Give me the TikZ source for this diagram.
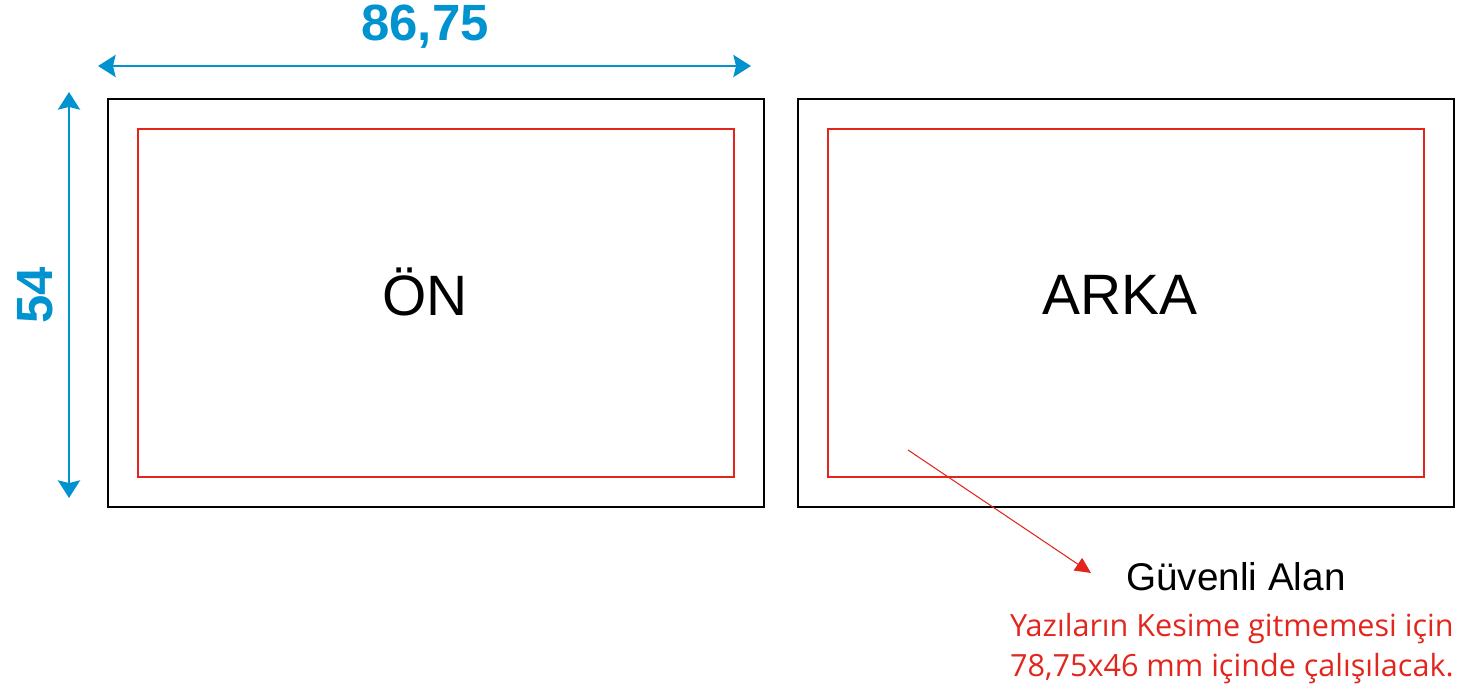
\documentclass[tikz,border=0pt]{standalone}
\usepackage{fontspec}
\setmainfont{Liberation Sans}
\newfontfamily\notefont{Open Sans}
\usetikzlibrary{arrows.meta}
\definecolor{olcu}{RGB}{0,147,208}
\definecolor{guvenli}{RGB}{226,38,30}

\begin{document}
\begin{tikzpicture}[x=0.02cm,y=-0.02cm]
				\tikzstyle{kesim}=[draw=black,line width=0.8pt,minimum width=13.12cm,minimum height=8.16cm,inner sep=0pt]
				\tikzstyle{alan}=[draw=guvenli,line width=0.7pt,minimum width=11.92cm,minimum height=6.96cm,inner sep=0pt]
				\tikzstyle{olculine}=[olcu,line width=1.7pt,{Stealth[length=10pt,width=12.5pt,inset=1.5pt]}-{Stealth[length=10pt,width=12.5pt,inset=1.5pt]}]
				\tikzstyle{olcutext}=[text=olcu,font=\fontsize{29}{32}\selectfont\bfseries,anchor=base,inner sep=0pt]
				\tikzstyle{yuz}=[font=\fontsize{32.4}{36}\selectfont,anchor=base,inner sep=0pt]
				\tikzstyle{nottext}=[text=guvenli,font=\notefont\fontsize{17.4}{20}\selectfont,anchor=base east,inner sep=0pt]
				\useasboundingbox (0,0) rectangle (1474,693);
				% kartlar
				\node[kesim](on) at (436,303) {};
				\node[alan](onalan) at (436,303) {};
				\node[kesim](arka) at (1126,303) {};
				\node[alan](arkaalan) at (1126,303) {};
				\node[yuz](ontext) at (425,315) {ÖN};
				\node[yuz](arkatext) at (1120,314) {ARKA};
				% olculer
				\coordinate(e1) at (98,66);
				\coordinate(e2) at (751,66);
				\coordinate(b1) at (69,92);
				\coordinate(b2) at (69,498);
				\draw[olculine] (e1) -- (e2);
				\draw[olculine] (b1) -- (b2);
				\node[olcutext](en) at (425,40) {86,75};
				\node[olcutext,rotate=90](boy) at (52,295) {54};
				% guvenli alan
				\coordinate(ok) at (908,450);
				\coordinate(okucu) at (1091,573);
				\node[font=\fontsize{22}{26}\selectfont,anchor=base,inner sep=0pt](baslik) at (1236,590) {Güvenli Alan};
				\node[nottext](not1) at (1454,636) {Yazıların Kesime gitmemesi için};
				\node[nottext](not2) at (1454,676) {78,75x46 mm içinde çalışılacak.};
				\draw[guvenli,line width=0.6pt,-{Triangle[length=9pt,width=8.5pt]}] (ok) -- (okucu);
			\end{tikzpicture}
\end{document}
